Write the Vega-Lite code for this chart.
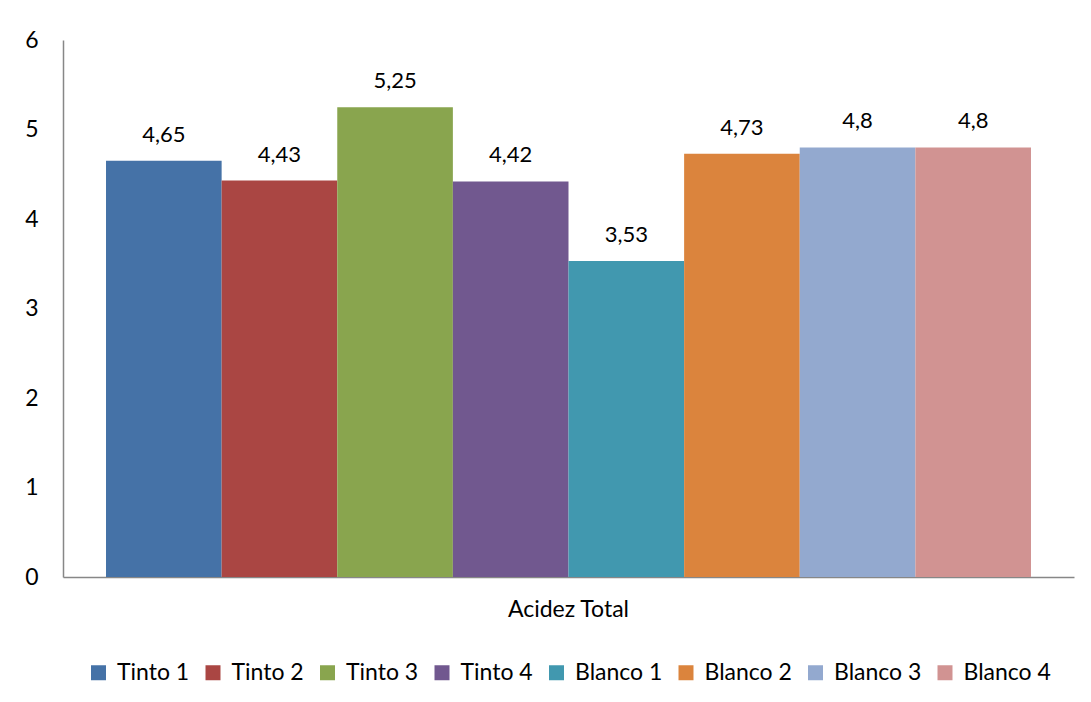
{
  "$schema": "https://vega.github.io/schema/vega-lite/v6.json",
  "width": 1011,
  "height": 537,
  "autosize": "none",
  "padding": {"left": 63, "top": 40, "right": 17, "bottom": 125},
  "background": "white",
  "data": {
    "values": [
      {"categoria": "Acidez Total", "serie": "Tinto 1", "valor": 4.65},
      {"categoria": "Acidez Total", "serie": "Tinto 2", "valor": 4.43},
      {"categoria": "Acidez Total", "serie": "Tinto 3", "valor": 5.25},
      {"categoria": "Acidez Total", "serie": "Tinto 4", "valor": 4.42},
      {"categoria": "Acidez Total", "serie": "Blanco 1", "valor": 3.53},
      {"categoria": "Acidez Total", "serie": "Blanco 2", "valor": 4.73},
      {"categoria": "Acidez Total", "serie": "Blanco 3", "valor": 4.8},
      {"categoria": "Acidez Total", "serie": "Blanco 4", "valor": 4.8}
    ]
  },
  "encoding": {
    "x": {
      "field": "categoria",
      "type": "nominal",
      "scale": {"paddingInner": 0, "paddingOuter": 0.0465},
      "axis": {
        "title": null,
        "labelAngle": 0,
        "ticks": false,
        "labelPadding": 21,
        "labelFontSize": 23,
        "domainColor": "#878787",
        "domainWidth": 1.5
      }
    },
    "xOffset": {
      "field": "serie",
      "type": "nominal",
      "sort": ["Tinto 1", "Tinto 2", "Tinto 3", "Tinto 4", "Blanco 1", "Blanco 2", "Blanco 3", "Blanco 4"],
      "scale": {"paddingInner": 0, "paddingOuter": 0}
    },
    "y": {
      "field": "valor",
      "type": "quantitative",
      "scale": {"domain": [0, 6], "nice": false},
      "axis": {
        "title": null,
        "values": [0, 1, 2, 3, 4, 5, 6],
        "grid": false,
        "ticks": false,
        "labelPadding": 25,
        "labelFontSize": 23,
        "domainColor": "#878787",
        "domainWidth": 1.5
      }
    }
  },
  "layer": [
    {
      "mark": {"type": "bar"},
      "encoding": {
        "color": {
          "field": "serie",
          "type": "nominal",
          "scale": {
            "domain": ["Tinto 1", "Tinto 2", "Tinto 3", "Tinto 4", "Blanco 1", "Blanco 2", "Blanco 3", "Blanco 4"],
            "range": ["#4572A7", "#AA4643", "#89A54E", "#71588F", "#4198AF", "#DB843D", "#93A9CF", "#D19392"]
          },
          "legend": {
            "title": null,
            "orient": "bottom",
            "direction": "horizontal",
            "symbolType": "square",
            "symbolSize": 225,
            "symbolStrokeWidth": 0,
            "labelFontSize": 23,
            "labelOffset": 7,
            "columnPadding": 11.5,
            "offset": 40
          }
        }
      }
    },
    {
      "mark": {"type": "text", "baseline": "alphabetic", "dy": -19, "fontSize": 22, "color": "black"},
      "encoding": {
        "text": {"field": "valor", "type": "quantitative", "format": ".2~f"}
      }
    }
  ],
  "config": {
    "font": "Lato",
    "view": {"stroke": null},
    "axis": {"labelColor": "black", "labelFont": "Lato"},
    "legend": {"labelColor": "black", "labelFont": "Lato", "layout": {"bottom": {"anchor": "middle"}}},
    "locale": {
      "number": {"decimal": ",", "thousands": ".", "grouping": [3], "currency": ["", " €"]}
    }
  }
}
